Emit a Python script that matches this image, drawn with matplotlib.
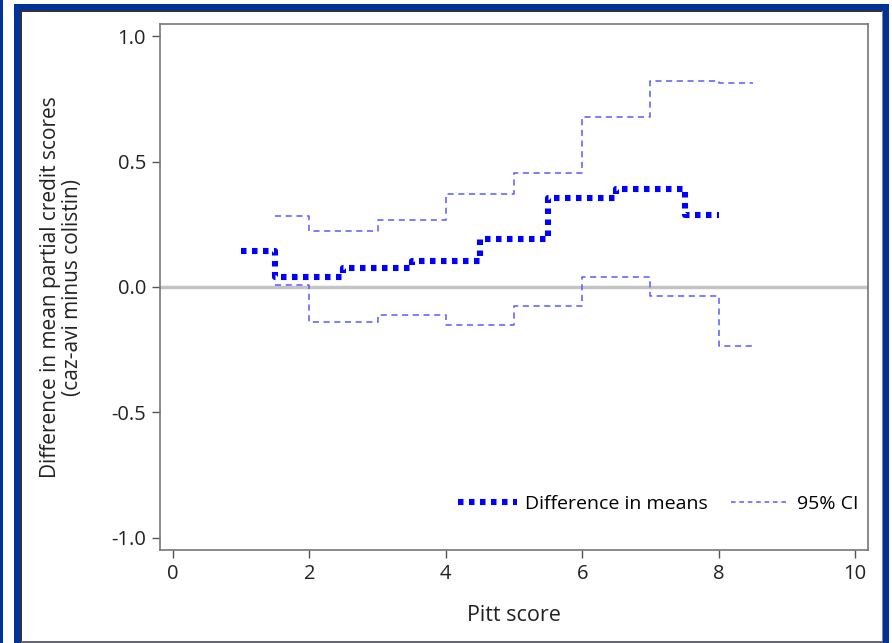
import matplotlib
matplotlib.use("Agg")
import matplotlib.pyplot as plt
from matplotlib.patches import Rectangle
from matplotlib.lines import Line2D

plt.rcParams['font.family'] = ['Open Sans', 'DejaVu Sans']

# Pitt score and estimated differences (caz-avi minus colistin)
pitt = [1, 2, 3, 4, 5, 6, 7, 8]
diff_means = [0.145, 0.04, 0.075, 0.105, 0.19, 0.355, 0.39, 0.285]

# 95% CI limits, drawn half a unit to the right
ci_x = [1.5, 2.5, 3.5, 4.5, 5.5, 6.5, 7.5, 8.5]
ci_upper = [0.284, 0.225, 0.268, 0.37, 0.455, 0.677, 0.82, 0.813]
ci_lower = [0.006, -0.14, -0.113, -0.153, -0.077, 0.038, -0.034, -0.237]

W, H = 892, 643
fig = plt.figure(figsize=(W / 100, H / 100), dpi=100)
fig.patch.set_facecolor('white')

# page frame
blue = '#003399'
def px_rect(x0, y0, x1, y1, color):
    fig.add_artist(Rectangle((x0 / W, 1 - y1 / H), (x1 - x0) / W, (y1 - y0) / H,
                             transform=fig.transFigure, facecolor=color,
                             edgecolor='none', zorder=0))
px_rect(0, 0, 2.5, H, blue)
px_rect(14, 4, 889, 10, blue)
px_rect(14, 4, 20, H, blue)
px_rect(883, 4, 889, H, blue)
px_rect(20, 10, 21.5, H, '#333333')
px_rect(20, 10, 883, 11.5, '#333333')
px_rect(881.5, 11, 883, H, '#888888')
px_rect(21, 640.5, 883, H, '#666677')

ax = fig.add_axes([160 / W, 1 - 550 / H, (868 - 160) / W, (550 - 24) / H])
ax.set_facecolor('white')

ax.axhline(0, color='#c4c4c4', lw=2.5, zorder=1)

ax.plot(pitt, diff_means, drawstyle='steps-mid', color='#0000ff', lw=4.4,
        linestyle=(0, (0.9, 0.9)), zorder=3)
ax.plot(ci_x, ci_upper, drawstyle='steps-mid', color='#5a5aff', lw=1.1,
        linestyle=(0, (4, 3)), zorder=2)
ax.plot(ci_x, ci_lower, drawstyle='steps-mid', color='#5a5aff', lw=1.1,
        linestyle=(0, (4, 3)), zorder=2)

ax.set_xlim(-0.19, 10.19)
ax.set_ylim(-1.048, 1.048)
ax.set_xticks([0, 2, 4, 6, 8, 10])
ax.set_yticks([-1.0, -0.5, 0.0, 0.5, 1.0])
ax.set_yticklabels(['-1.0', '-0.5', '0.0', '0.5', '1.0'])

for s in ax.spines.values():
    s.set_color('#777777')
    s.set_linewidth(1.2)
ax.tick_params(length=6, width=1, color='#555555', labelsize=14.5,
               labelcolor='#222222', pad=4)

ax.set_xlabel('Pitt score', fontsize=15.5, color='#222222', labelpad=15)
ax.set_ylabel('Difference in mean partial credit scores\n(caz-avi minus colistin)',
              fontsize=15, color='#222222', labelpad=20, linespacing=1.1)

handles = [Line2D([], [], color='#0000ff', lw=4.4, linestyle=(0, (0.9, 0.9))),
           Line2D([], [], color='#5a5aff', lw=1.1, linestyle=(0, (3, 2.5)))]
ax.legend(handles, ['Difference in means', '95% CI'], loc='lower right',
          bbox_to_anchor=(1.011, 0.037), ncol=2, frameon=False, fontsize=14,
          handlelength=3.0, handletextpad=0.4, columnspacing=1.2)

fig.savefig('out.png', dpi=100, facecolor='white')
